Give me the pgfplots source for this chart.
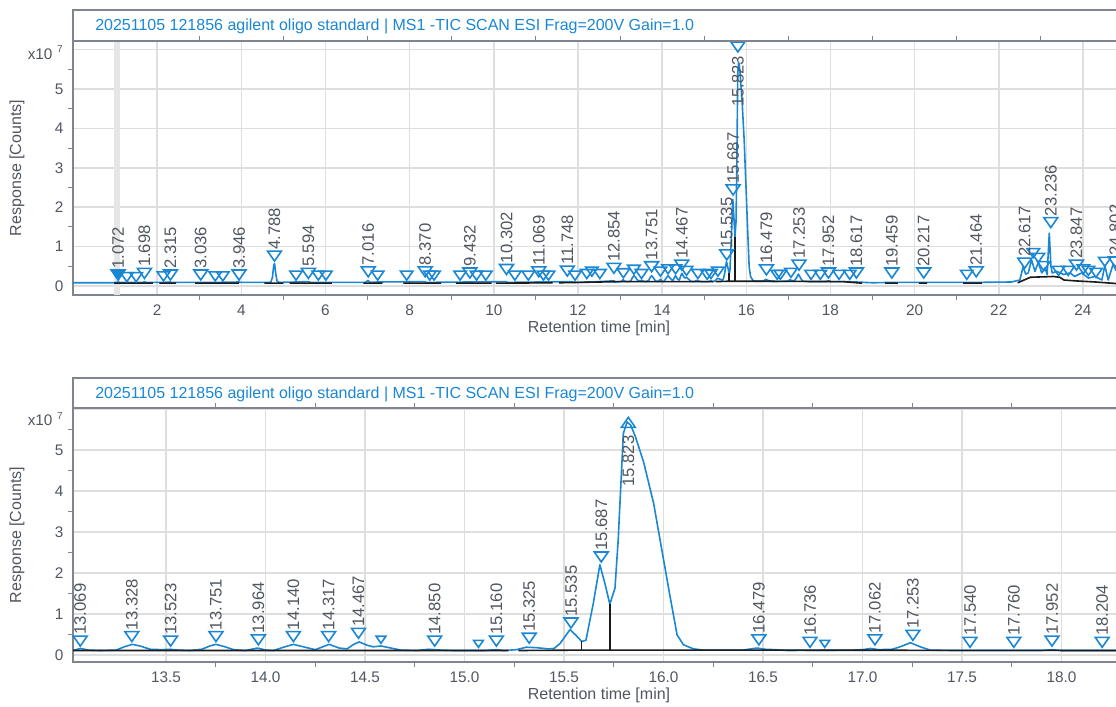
\documentclass[border=0pt]{standalone}
\usepackage{fontspec}
\setmainfont{Liberation Sans}
\usepackage{pgfplots}
\usepackage{pgfplotstable}
\pgfplotsset{compat=1.18}
\definecolor{tblue}{RGB}{25,135,212}
\definecolor{textc}{RGB}{80,86,96}
\definecolor{framec}{RGB}{128,132,145}
\definecolor{gridc}{RGB}{222,222,222}
\definecolor{bandc}{RGB}{230,230,230}
\definecolor{basec}{RGB}{25,25,30}

\pgfplotstableread{
t v
0.00 0.08
0.95 0.08
1.03 0.09
1.07 0.10
1.11 0.09
1.28 0.09
1.50 0.09
1.67 0.09
1.70 0.11
1.73 0.09
2.15 0.09
2.30 0.10
2.35 0.09
3.03 0.09
3.40 0.09
3.95 0.10
4.00 0.09
4.70 0.09
4.74 0.22
4.77 0.52
4.79 0.57
4.82 0.30
4.85 0.12
4.90 0.09
5.30 0.10
5.59 0.11
5.65 0.09
6.00 0.09
6.95 0.09
7.01 0.14
7.06 0.09
7.24 0.10
8.35 0.11
8.40 0.09
9.40 0.10
10.28 0.11
10.33 0.09
11.07 0.10
11.74 0.11
12.00 0.09
12.50 0.11
12.85 0.13
12.90 0.10
13.00 0.11
13.04 0.12
13.07 0.16
13.11 0.12
13.17 0.11
13.25 0.12
13.29 0.20
13.33 0.26
13.37 0.22
13.42 0.14
13.48 0.13
13.52 0.14
13.56 0.12
13.62 0.11
13.68 0.14
13.72 0.22
13.75 0.26
13.79 0.21
13.84 0.13
13.90 0.11
13.96 0.17
14.00 0.12
14.04 0.11
14.09 0.19
14.14 0.26
14.19 0.20
14.25 0.13
14.32 0.26
14.37 0.17
14.41 0.15
14.44 0.25
14.47 0.32
14.51 0.24
14.54 0.20
14.58 0.22
14.62 0.18
14.68 0.12
14.76 0.11
14.82 0.14
14.88 0.12
14.95 0.11
15.10 0.11
15.16 0.13
15.20 0.11
15.26 0.13
15.31 0.19
15.36 0.18
15.42 0.15
15.45 0.16
15.48 0.28
15.53 0.62
15.56 0.48
15.589 0.33
15.61 0.36
15.647 1.26
15.68 2.20
15.705 1.75
15.73 1.24
15.756 1.63
15.772 2.80
15.781 3.70
15.798 5.40
15.817 5.68
15.835 5.60
15.858 5.33
15.90 4.70
15.95 3.70
15.99 2.60
16.03 1.50
16.068 0.49
16.10 0.25
16.15 0.15
16.20 0.12
16.40 0.12
16.44 0.15
16.47 0.17
16.51 0.14
16.56 0.13
16.62 0.11
16.95 0.12
17.00 0.13
17.04 0.16
17.08 0.13
17.15 0.14
17.20 0.22
17.24 0.30
17.29 0.20
17.34 0.12
17.45 0.11
17.90 0.11
17.95 0.13
18.00 0.11
18.30 0.11
18.62 0.10
19.00 0.08
19.45 0.09
20.20 0.09
21.46 0.09
22.30 0.10
22.50 0.15
22.58 0.49
22.64 0.30
22.70 0.33
22.78 0.66
22.86 0.37
22.94 0.60
23.02 0.33
23.10 0.46
23.15 0.29
23.20 1.34
23.24 0.50
23.27 0.33
23.38 0.37
23.54 0.29
23.70 0.33
23.80 0.24
23.97 0.33
24.13 0.20
24.29 0.24
24.45 0.15
24.52 0.52
24.60 0.15
24.72 0.56
24.78 0.40
25.00 0.30
}\trace

\pgfplotstableread{
t v
0.98 0.07
1.90 0.07
nan nan
2.05 0.07
2.45 0.07
nan nan
2.90 0.07
3.95 0.07
nan nan
4.55 0.07
5.00 0.07
nan nan
5.15 0.07
6.15 0.07
nan nan
6.90 0.07
7.35 0.07
nan nan
7.85 0.07
8.75 0.07
nan nan
9.10 0.07
9.95 0.07
nan nan
10.05 0.07
11.40 0.08
nan nan
11.55 0.08
13.00 0.11
15.22 0.11
nan nan
15.27 0.11
15.60 0.12
16.20 0.12
18.30 0.11
18.75 0.07
nan nan
19.30 0.07
19.60 0.07
nan nan
20.10 0.07
20.30 0.07
nan nan
21.15 0.07
21.60 0.07
nan nan
22.45 0.08
22.60 0.15
22.75 0.22
23.30 0.24
23.45 0.22
23.55 0.15
23.80 0.13
24.30 0.10
24.80 0.06
25.00 0.05
}\baseln

\pgfplotstableread{
t v
15.587 0.12
15.587 0.33
nan nan
15.73 0.12
15.73 1.24
}\drops

\pgfplotstableread{
t v lab
1.698 0.36 1.698
2.315 0.32 2.315
3.036 0.32 3.036
3.946 0.32 3.946
4.788 0.80 4.788
5.594 0.36 5.594
7.016 0.40 7.016
8.370 0.40 8.370
9.432 0.37 9.432
10.302 0.46 10.302
11.069 0.40 11.069
11.748 0.42 11.748
12.854 0.49 12.854
13.751 0.53 13.751
14.467 0.57 14.467
15.535 0.83 15.535
15.687 2.48 15.687
16.479 0.45 16.479
17.253 0.57 17.253
17.952 0.37 17.952
18.617 0.37 18.617
19.459 0.37 19.459
20.217 0.37 20.217
21.464 0.40 21.464
22.617 0.62 22.617
23.236 1.65 23.236
23.847 0.57 23.847
24.77 0.65 24.802
}\toplab

\pgfplotstableread{
t v
1.28 0.26
1.50 0.26
2.15 0.28
3.38 0.28
3.56 0.28
5.30 0.30
5.83 0.30
6.01 0.30
7.24 0.30
7.93 0.30
8.48 0.30
8.58 0.30
9.20 0.30
9.59 0.30
9.81 0.30
10.50 0.30
10.82 0.30
11.18 0.30
11.30 0.30
11.93 0.30
12.21 0.34
12.33 0.40
12.52 0.34
13.08 0.36
13.33 0.45
13.51 0.34
13.96 0.40
14.14 0.46
14.32 0.46
14.58 0.42
14.85 0.34
15.07 0.32
15.16 0.34
15.325 0.40
16.736 0.32
16.81 0.32
17.062 0.37
17.54 0.32
17.76 0.32
18.204 0.32
18.46 0.32
21.24 0.32
22.82 0.87
22.94 0.75
23.07 0.54
23.42 0.42
23.65 0.42
24.01 0.46
24.13 0.42
24.31 0.37
24.52 0.65
}\topnolab

\pgfplotstableread{
t v lab
13.069 0.38 13.069
13.328 0.49 13.328
13.523 0.38 13.523
13.751 0.49 13.751
13.964 0.41 13.964
14.140 0.49 14.140
14.317 0.49 14.317
14.467 0.57 14.467
14.850 0.38 14.850
15.160 0.38 15.160
15.325 0.45 15.325
15.535 0.82 15.535
15.687 2.43 15.687
16.479 0.41 16.479
16.736 0.35 16.736
17.062 0.41 17.062
17.253 0.52 17.253
17.540 0.35 17.540
17.760 0.35 17.760
17.952 0.38 17.952
18.204 0.35 18.204
}\botlab

\pgfplotstableread{
t v
14.58 0.40
15.07 0.30
16.81 0.30
}\botsmall

\newcommand\lfont{\fontsize{12}{14}\selectfont}
\newcommand\pfont{\fontsize{12.5}{14}\selectfont}
\newcommand\tfont{\fontsize{11.5}{13}\selectfont}

\pgfplotsset{
  chrom/.style={
    scale only axis, width=789pt, height=190.5pt,
    axis line style={draw=framec, line width=1.5pt},
    grid=major, major grid style={draw=gridc, line width=1.1pt},
    tick align=outside, major tick length=0pt, minor tick length=3.5pt,
    minor tick style={draw=framec, line width=0.8pt},
    tick label style={font=\tfont, text=textc},
    xticklabel style={yshift=-3.7pt},
    yticklabel style={xshift=-3.7pt},
    ytick={0,1,2,3,4,5,6}, yticklabels={0,1,2,3,4,5,{}},
    minor y tick num=1, minor x tick num=1,
    xlabel={Retention time [min]}, ylabel={Response [Counts]},
    every axis x label/.style={at={(axis description cs:0.5,0)}, anchor=center, yshift=-25pt, font=\lfont, text=textc},
    every axis y label/.style={at={(axis description cs:0,0.5)}, xshift=-42pt, rotate=90, anchor=center, font=\lfont, text=textc},
    clip mode=individual,
    unbounded coords=jump,
  },
  trace/.style={draw=tblue, line width=1.2pt, line join=round, no markers},
  base/.style={draw=basec, line width=1.2pt, no markers},
  dtri/.style={only marks, mark=triangle, mark size=5pt,
    mark options={rotate=180, xscale=1.2, draw=tblue, line width=1.2pt, solid}},
  plab/.style={nodes near coords, point meta=explicit symbolic,
    every node near coord/.append style={font=\pfont, text=textc, inner sep=0pt, yshift=3pt, rotate=90, anchor=west}},
}

\begin{document}
\begin{tikzpicture}
\useasboundingbox (0,0) rectangle (837pt,529.5pt);
\clip (0,0) rectangle (837pt,529.5pt);

% ---------- top panel ----------
\begin{axis}[chrom, at={(54.75pt,308.25pt)}, anchor=south west,
  xmin=0, xmax=25, ymin=-0.23, ymax=6.22,
  xtick={2,4,6,8,10,12,14,16,18,20,22,24},
  xticklabels={2,4,6,8,10,12,14,16,18,20,22,24}]
\addplot[fill=bandc, draw=none] coordinates {(0.97,-1) (1.12,-1) (1.12,7) (0.97,7)} -- cycle;
\addplot[trace] table[x=t,y=v] {\trace};
\addplot[base] table[x=t,y=v] {\baseln};
\addplot[base] table[x=t,y=v] {\drops};
\addplot[dtri, mark size=4.5pt] table[x=t,y=v] {\topnolab};
\addplot[dtri, plab] table[x=t,y=v,meta=lab] {\toplab};
\addplot[only marks, mark=triangle*, mark size=5pt,
  mark options={rotate=180, xscale=1.2, draw=tblue, fill=tblue, line width=1.2pt},
  plab] coordinates {(1.072,0.32) [1.072]};
\addplot[dtri, nodes near coords, point meta=explicit symbolic,
  every node near coord/.append style={font=\pfont, text=textc, inner sep=0pt, yshift=-7.3pt, rotate=90, anchor=east}]
  coordinates {(15.80,6.11) [15.823]};
\end{axis}

% ---------- bottom panel ----------
\begin{axis}[chrom, at={(54.75pt,33pt)}, anchor=south west,
  xmin=13.0327, xmax=18.319, ymin=-0.17, ymax=6.02,
  xtick={13.5,14.0,14.5,15.0,15.5,16.0,16.5,17.0,17.5,18.0},
  xticklabels={13.5,14.0,14.5,15.0,15.5,16.0,16.5,17.0,17.5,18.0}]
\addplot[trace] table[x=t,y=v] {\trace};
\addplot[base] table[x=t,y=v] {\baseln};
\addplot[base] table[x=t,y=v] {\drops};
\addplot[dtri, mark size=3.5pt] table[x=t,y=v] {\botsmall};
\addplot[dtri, plab] table[x=t,y=v,meta=lab] {\botlab};
\addplot[only marks, mark=triangle, mark size=5pt,
  mark options={xscale=1.2, draw=tblue, line width=1.2pt, solid},
  nodes near coords, point meta=explicit symbolic,
  every node near coord/.append style={font=\pfont, text=textc, inner sep=0pt, yshift=-8pt, rotate=90, anchor=east}]
  coordinates {(15.823,5.63) [15.823]};
\end{axis}

% ---------- title boxes and scale labels ----------
\draw[framec, line width=1.5pt] (54.75pt,498.75pt) rectangle (850pt,522pt);
\draw[framec, line width=1.5pt] (54.75pt,223.5pt) rectangle (850pt,246pt);
\node[anchor=base west, inner sep=0pt, font=\lfont, text=tblue] at (71.25pt,506.25pt)
  {20251105 121856 agilent oligo standard | MS1 -TIC SCAN ESI Frag=200V Gain=1.0};
\node[anchor=base west, inner sep=0pt, font=\lfont, text=tblue] at (71.25pt,230.25pt)
  {20251105 121856 agilent oligo standard | MS1 -TIC SCAN ESI Frag=200V Gain=1.0};
\node[anchor=base east, inner sep=0pt, font=\tfont, text=textc] at (47.25pt,485pt)
  {x10\hspace{3.5pt}\raisebox{5pt}{\fontsize{7.5}{9}\selectfont 7}};
\node[anchor=base east, inner sep=0pt, font=\tfont, text=textc] at (47.25pt,210pt)
  {x10\hspace{3.5pt}\raisebox{5pt}{\fontsize{7.5}{9}\selectfont 7}};
\end{tikzpicture}
\end{document}
